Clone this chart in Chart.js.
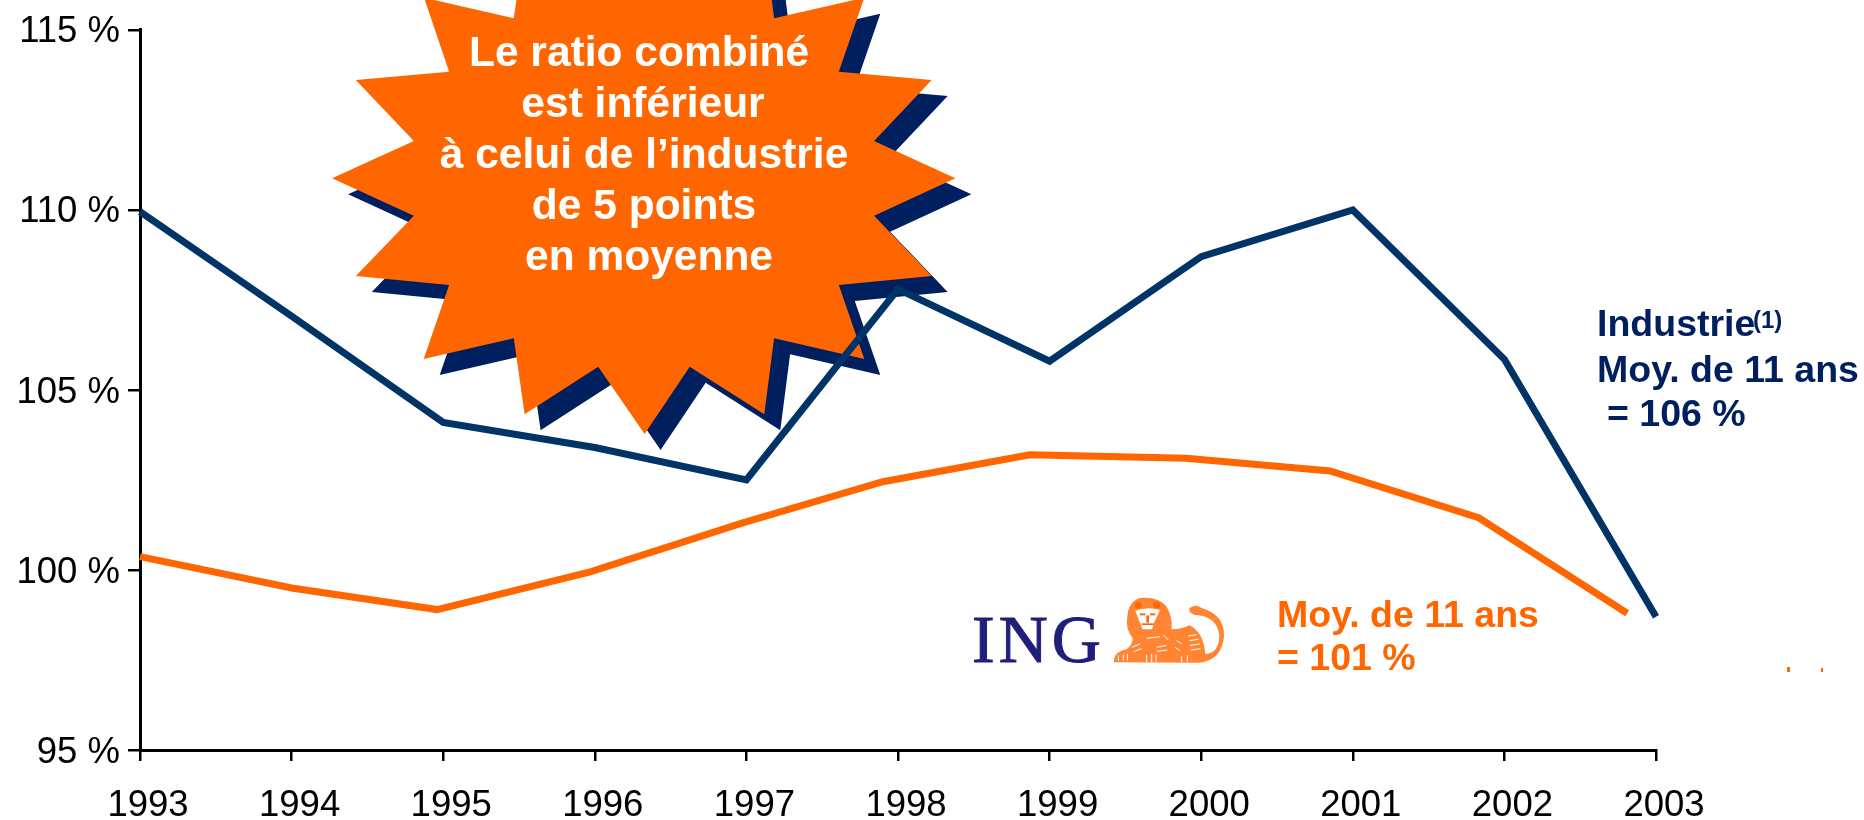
<!DOCTYPE html>
<html lang="fr">
<head>
<meta charset="utf-8">
<title>Ratio combiné</title>
<script src="https://cdn.jsdelivr.net/npm/chart.js@4/dist/chart.umd.min.js"></script>
<style>
  html, body { margin: 0; padding: 0; background: #fff; overflow: hidden; }
  canvas { display: block; }
</style>
</head>
<body>
<canvas id="graphique" width="1864" height="820"></canvas>
<script>
// Données
const annees = [1993, 1994, 1995, 1996, 1997, 1998, 1999, 2000, 2001, 2002, 2003];
const industrie = [109.95, 107.05, 104.1, 103.4, 102.5, 107.8, 105.8, 108.7, 110.0, 105.85, 98.7];
// la courbe ING est décalée vers la gauche par rapport aux graduations
const anneesIng = [1993, 1994, 1994.96, 1995.97, 1996.97, 1997.9, 1998.87, 1999.9, 2000.85, 2001.83, 2002.81];
const ing = [100.37, 99.5, 98.9, 99.95, 101.3, 102.45, 103.2, 103.1, 102.75, 101.45, 98.8];
const valeursY = [95, 100, 105, 110, 115];

const texteEtoile = ['Le ratio combiné', 'est inférieur', 'à celui de l’industrie', 'de 5 points', 'en moyenne'];
const texteIndustrie = ['Industrie', 'Moy. de 11 ans', '= 106 %'];
const texteIng = ['Moy. de 11 ans', '= 101 %'];

const BLEU = '#003366';
const ORANGE = '#FF6600';
const OMBRE = '#001F5F';
const POLICE = '"Liberation Sans", Arial, sans-serif';

// Contour de l'étoile (décor, pas une donnée)
const etoile = [
    [644.6, -77.3], [689.7, -10], [764.3, -57.7], [774.1, 18.3], [864.3, -2.3], [838.8, 71.7],
    [931.7, 80], [874.1, 141], [955.4, 178.3], [874.1, 215.7], [931.7, 276], [838.8, 285],
    [864.3, 359], [774.1, 338.3], [764.3, 414.3], [689.7, 366.7], [644.6, 434], [598.2, 366.7],
    [524.6, 414.3], [513.8, 338.3], [423.7, 359], [449.1, 285], [355.8, 276], [413.8, 215.7],
    [332.1, 178.3], [413.8, 141], [355.8, 80], [449.1, 71.7], [424.1, -2.3], [513.8, 18.3],
    [524.6, -57.7], [598.2, -10]
];

function tracerEtoile(ctx, dx, dy, couleur) {
    ctx.fillStyle = couleur;
    ctx.beginPath();
    etoile.forEach(function(p, i) {
        if (i === 0) ctx.moveTo(p[0] + dx, p[1] + dy);
        else ctx.lineTo(p[0] + dx, p[1] + dy);
    });
    ctx.closePath();
    ctx.fill();
}

function tracerLion(ctx) {
    ctx.save();
    ctx.translate(950, 570);
    ctx.scale(1 / 3, 1 / 3);
    ctx.fillStyle = '#FF8533';
    ctx.beginPath();
    ctx.moveTo(492, 277);
    ctx.quadraticCurveTo(490, 245, 530, 238);
    ctx.quadraticCurveTo(548, 225, 548, 205);
    ctx.quadraticCurveTo(525, 175, 532, 140);
    ctx.quadraticCurveTo(535, 95, 570, 84);
    ctx.quadraticCurveTo(625, 78, 650, 110);
    ctx.quadraticCurveTo(668, 140, 665, 178);
    ctx.quadraticCurveTo(695, 178, 718, 166);
    ctx.quadraticCurveTo(760, 185, 766, 252);
    ctx.quadraticCurveTo(808, 250, 808, 195);
    ctx.quadraticCurveTo(800, 142, 745, 136);
    ctx.quadraticCurveTo(715, 135, 718, 115);
    ctx.quadraticCurveTo(735, 100, 755, 114);
    ctx.quadraticCurveTo(825, 135, 822, 200);
    ctx.quadraticCurveTo(815, 272, 745, 278);
    ctx.closePath();
    ctx.fill();
    // détails blancs : face, pattes, rayures
    ctx.fillStyle = '#fff';
    ctx.beginPath();
    ctx.moveTo(556, 122);
    ctx.quadraticCurveTo(592, 108, 630, 120);
    ctx.lineTo(612, 158);
    ctx.lineTo(606, 178);
    ctx.lineTo(578, 178);
    ctx.lineTo(570, 158);
    ctx.closePath();
    ctx.fill();
    ctx.fillStyle = '#FF6600';
    ctx.fillRect(570, 130, 16, 6);
    ctx.fillRect(600, 130, 16, 6);
    ctx.fillRect(589, 136, 8, 22);
    ctx.fillRect(575, 160, 36, 5);
    ctx.beginPath();
    ctx.arc(565, 106, 10, 0, Math.PI * 2);
    ctx.arc(620, 106, 10, 0, Math.PI * 2);
    ctx.fill();
    ctx.strokeStyle = '#fff';
    ctx.lineWidth = 3;
    [[505, 256, 505, 272], [520, 254, 520, 272], [532, 252, 532, 272], [590, 254, 590, 276], [605, 252, 605, 276],
     [618, 254, 618, 274], [695, 258, 695, 276], [712, 256, 712, 274], [545, 232, 570, 222], [550, 245, 575, 236],
     [620, 232, 650, 226], [620, 244, 652, 240], [715, 198, 740, 194], [718, 212, 746, 208], [720, 226, 750, 222],
     [722, 240, 752, 236], [680, 212, 696, 222], [675, 232, 690, 242], [590, 205, 630, 200], [640, 195, 655, 210]].forEach(function(t) {
        ctx.beginPath();
        ctx.moveTo(t[0], t[1]);
        ctx.lineTo(t[2], t[3]);
        ctx.stroke();
    });
    ctx.restore();
}

// L'étoile passe sous les courbes, les textes par-dessus
const decor = {
    id: 'decor',
    beforeDatasetsDraw: function(chart) {
        const ctx = chart.ctx;
        tracerEtoile(ctx, 16, 16, OMBRE);
        tracerEtoile(ctx, 0, 0, ORANGE);
    },
    afterDraw: function(chart) {
        const ctx = chart.ctx;
        ctx.save();
        ctx.textBaseline = 'alphabetic';

        ctx.fillStyle = '#fff';
        ctx.textAlign = 'center';
        ctx.font = 'bold 42.5px ' + POLICE;
        const xEtoile = [639, 643, 644, 644, 649];
        texteEtoile.forEach(function(t, i) {
            ctx.fillText(t, xEtoile[i], 66 + i * 51);
        });

        ctx.textAlign = 'left';
        ctx.fillStyle = OMBRE;
        ctx.font = 'bold 37.5px ' + POLICE;
        ctx.fillText(texteIndustrie[0], 1597, 336);
        ctx.fillText(texteIndustrie[1], 1597, 382);
        ctx.fillText(texteIndustrie[2], 1607, 426);
        ctx.font = 'bold 24px ' + POLICE;
        ctx.fillText('(1)', 1753, 328);

        ctx.fillStyle = ORANGE;
        ctx.font = 'bold 37.5px ' + POLICE;
        ctx.fillText(texteIng[0], 1277, 627);
        ctx.fillText(texteIng[1], 1277, 670);

        ctx.fillStyle = '#1F1F7A';
        ctx.strokeStyle = '#1F1F7A';
        ctx.lineWidth = 1;
        ctx.font = '68px "Liberation Serif", serif';
        ctx.letterSpacing = '4px';
        ctx.fillText('ING', 972, 662);
        ctx.strokeText('ING', 972, 662);
        ctx.letterSpacing = '0px';

        tracerLion(ctx);

        // petites traces orange en bas à droite
        ctx.fillStyle = ORANGE;
        ctx.fillRect(1787, 667, 3, 5);
        ctx.fillRect(1821, 668, 2, 4);
        ctx.restore();
    }
};

new Chart(document.getElementById('graphique').getContext('2d'), {
    type: 'line',
    data: {
        datasets: [
            {
                label: 'Industrie',
                data: annees.map(function(a, i) { return { x: a, y: industrie[i] }; }),
                borderColor: BLEU,
                borderWidth: 7,
                borderJoinStyle: 'miter',
                pointRadius: 0,
                tension: 0,
                clip: false
            },
            {
                label: 'ING',
                data: anneesIng.map(function(a, i) { return { x: a, y: ing[i] }; }),
                borderColor: ORANGE,
                borderWidth: 7,
                borderJoinStyle: 'miter',
                pointRadius: 0,
                tension: 0,
                clip: false
            }
        ]
    },
    options: {
        responsive: false,
        animation: false,
        layout: { padding: { top: 28, right: 208, bottom: 0, left: 0 } },
        plugins: {
            legend: { display: false },
            tooltip: { enabled: false }
        },
        scales: {
            x: {
                type: 'linear',
                min: 1993,
                max: 2003,
                afterFit: function(scale) { scale.height = 70; },
                afterBuildTicks: function(scale) {
                    scale.ticks = annees.map(function(a) { return { value: a }; });
                },
                grid: { drawOnChartArea: false, color: '#000', lineWidth: 2.5, tickLength: 11 },
                border: { color: '#000', width: 3 },
                ticks: {
                    color: '#000',
                    font: { family: 'Liberation Sans', size: 36.5 },
                    padding: 23,
                    labelOffset: 8,
                    maxRotation: 0,
                    autoSkip: false,
                    callback: function(value) { return String(value); }
                }
            },
            y: {
                min: 95,
                max: 115,
                afterFit: function(scale) { scale.width = 140; },
                afterBuildTicks: function(scale) {
                    scale.ticks = valeursY.map(function(v) { return { value: v }; });
                },
                grid: { drawOnChartArea: false, color: '#000', lineWidth: 2.5, tickLength: 12 },
                border: { color: '#000', width: 3 },
                ticks: {
                    color: '#000',
                    font: { family: 'Liberation Sans', size: 36.5 },
                    padding: 8,
                    labelOffset: 2.5,
                    callback: function(value) { return value + ' %'; }
                }
            }
        }
    },
    plugins: [decor]
});
</script>
</body>
</html>
